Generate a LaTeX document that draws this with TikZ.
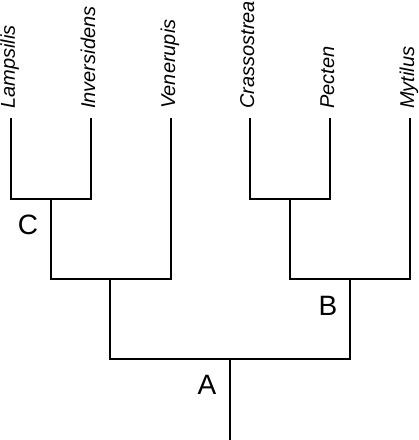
\documentclass[tikz,border=0pt]{standalone}
\usepackage{fontspec}
\setmainfont{Liberation Sans}
\begin{document}
\begin{tikzpicture}[x=1pt,y=-1pt,
  branch/.style={line width=1.6pt,line join=miter},
  taxon/.style={rotate=90,anchor=base west,inner sep=0pt,font=\fontsize{20}{22}\selectfont\itshape},
  clade/.style={inner sep=0pt,font=\fontsize{28}{30}\selectfont}]
\useasboundingbox (0,0) rectangle (419,440);
% leaves
\coordinate (L1) at (11,118);
\coordinate (L2) at (91,118);
\coordinate (L3) at (171,118);
\coordinate (L4) at (250,118);
\coordinate (L5) at (330,118);
\coordinate (L6) at (410,118);
% junctions
\coordinate (j1) at (51,199);
\coordinate (j2) at (290,199);
\coordinate (j3) at (110,279);
\coordinate (j4) at (350,279);
\coordinate (root) at (230,359);
\coordinate (base) at (230,441);
% taxon names
\node[taxon] (t1) at (15,109) {Lampsilis};
\node[taxon] (t2) at (95,109) {Inversidens};
\node[taxon] (t3) at (175,109) {Venerupis};
\node[taxon] (t4) at (254,109) {Crassostrea};
\node[taxon] (t5) at (334,109) {Pecten};
\node[taxon] (t6) at (414,109) {Mytilus};
% branches
\draw[branch] (L1) |- (j1) -| (L2);
\draw[branch] (j1) |- (j3) -| (L3);
\draw[branch] (L4) |- (j2) -| (L5);
\draw[branch] (j2) |- (j4) -| (L6);
\draw[branch] (j3) |- (root) -| (j4);
\draw[branch] (root) -- (base);
% clade labels
\node[clade] (C) at (28,225) {C};
\node[clade] (B) at (328,306) {B};
\node[clade] (A) at (207,385) {A};
\end{tikzpicture}
\end{document}
